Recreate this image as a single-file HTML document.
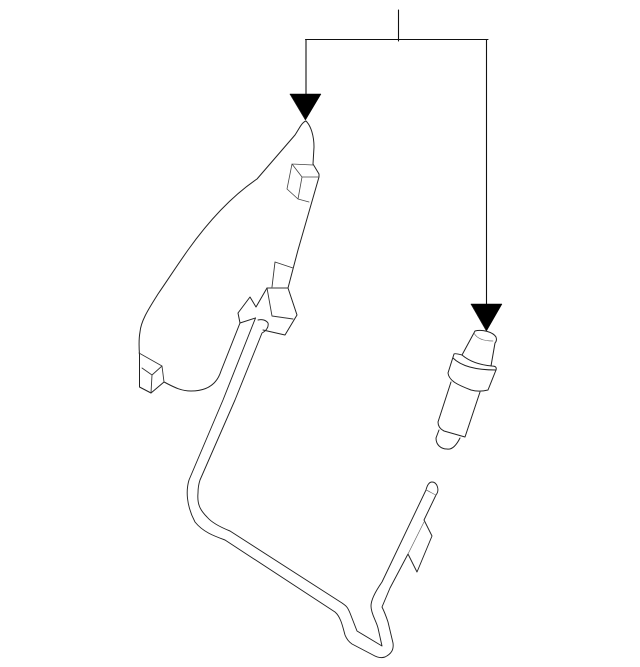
<!DOCTYPE html>
<html><head><meta charset="utf-8"><style>html,body{margin:0;padding:0;background:#fff;width:640px;height:667px;overflow:hidden}svg{display:block}</style></head><body>
<svg width="640" height="667" viewBox="0 0 640 667" fill="none" stroke="#222" stroke-width="1" stroke-linejoin="round" stroke-linecap="round">
<!-- connectors -->
<path d="M398.500 10V41M305.500 39.500H488M306 39.500V96M486.500 39.500V306" stroke="#111" stroke-width="1.100"/>
<path d="M290 94H321L305.500 120Z M471 304H502L486.500 331Z" fill="#000" stroke="#000" stroke-width=".5"/>
<!-- panel outline -->
<path d="M313 164 L314 147 C314 136 311 126 306 121 C302 122 299 129 295 135 L257 179 C232 196 208 222 188 250 C176 267 167 281 158 294 C150 307 141 320 140 332 C138.500 340 139 348 139.500 355 L139.500 387 L151 393 L164 382 C172 386 180 391 191 391 C207 391 217 384 221 371 L240 323 L255.500 318"/>
<path d="M313 164 L319 174 L319 177 L298 250 L288 288 L297 315 L285 335 L263 330"/>
<!-- upper cube -->
<path d="M292 164 L313 165 M292 164 L302 177 L319 177 M302 177 L298 199 M292 164 L287 189 L298 199 L309 202" stroke="#444" stroke-width=".8"/>
<!-- centre block -->
<path d="M267 288 L288 288 M267 288 L272 316 L293 319 M272 287 L275 262 L293 268" stroke="#333" stroke-width=".9"/>
<path d="M240 323 L238 313 L250 297 L256 307 L267 288"/>
<!-- lower cube -->
<path d="M139 353 L162 366 L164 382 M162 366 L152 375 L142 368 M152 375 L151 393" stroke="#333" stroke-width=".9"/>
<!-- strap -->
<path d="M255.500 318 L223 400 L189 480 C186 490 186 505 195 522 C203 532 214 536 225 540 L335 612 C341 617 343 628 345 635 C347 640 349 642 352 644 L373 655 C378 658 382 658 385 657 C391 654 394 650 393 643 L388 622 C386 616 384 611 382 607 L390 588 L408 554 L417 572 L432 536 L424 520 L436 495 C440 490 437 482 432 482 C429 482 427 486 426 490 L382 582 C375 592 371 600 371 606 C371 614 376 620 378 628 L382 646 L357 631 L350 613 C347 606 346 606 342 603 L230 531 C220 527 212 523 207 517 C200 510 197 504 198 493 C198 487 199 483 200 480 L235 400 L262 333 C266 331 269 327 268 323 C266 320 262 319 258 320" stroke-width=".95"/>
<path d="M424 522 L408 554 M426 490 C429 491 433 494 436 495" stroke="#666" stroke-width=".7"/>
<!-- plug -->
<path d="M462 355 L475 331 C482 329 493 332 496 337 C497 340 496 342 495 343 L491 366"/>
<path d="M474 333 C477 339 485 341 493 341" stroke="#666" stroke-width=".7"/>
<path d="M462 355 C458 354 455 353 454 354 L448 373 C449 381 458 385 471 390 C478 392 484 391 488 390 L496 370 C497 367 495 366 492 366 C480 365 469 361 462 355Z"/>
<path d="M453 358 C460 365 473 370 496 370"/>
<path d="M451 382 L438 422 C438 426 440 429 444 431 L465 437 L480 392"/>
<path d="M439 430 L436 438 C436 445 441 449 447 449 C452 450 456 446 460 438"/>
</svg>
</body></html>
